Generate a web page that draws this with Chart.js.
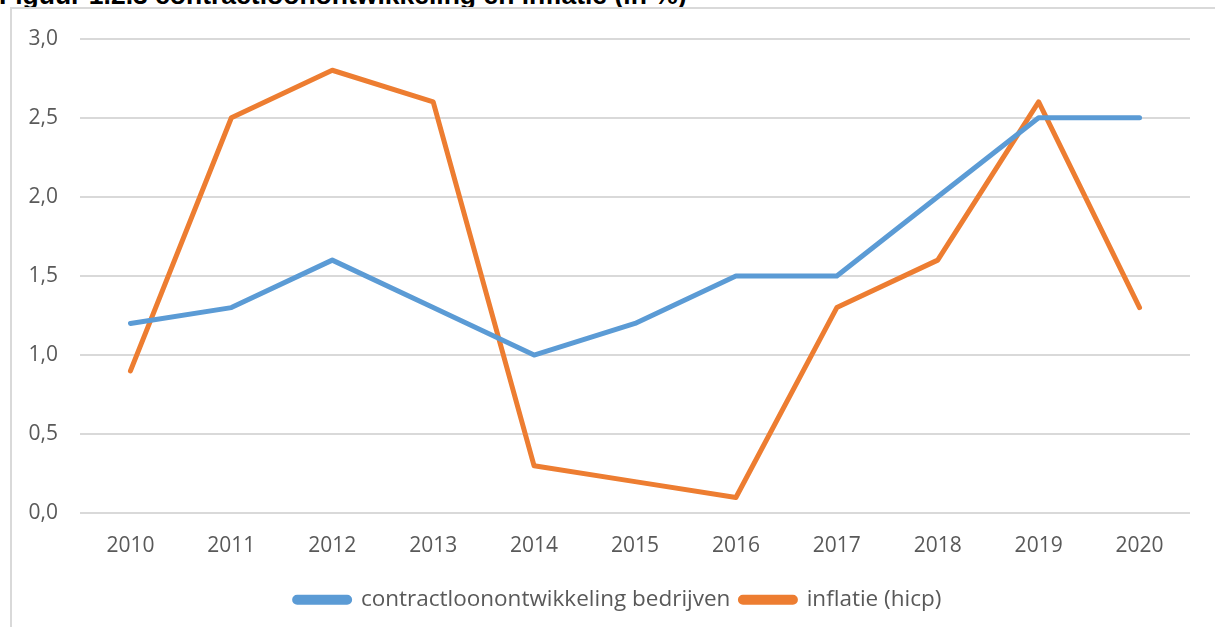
<!DOCTYPE html>
<html>
<head>
<meta charset="utf-8">
<script src="https://cdn.jsdelivr.net/npm/chart.js@4/dist/chart.umd.min.js"></script>
<style>
  html, body { margin: 0; padding: 0; background: #fff; overflow: hidden; }
  body { width: 1215px; height: 627px; position: relative; }
  #title {
    position: absolute; left: -1px; top: -20px;
    font: bold 26.5px "Liberation Sans", Arial, sans-serif; color: #000;
    white-space: nowrap;
  }
  #box {
    position: absolute; left: 10px; top: 7px; width: 1215px; height: 630px;
    border-left: 2px solid #d9d9d9; border-top: 2px solid #d9d9d9;
    background: #fff;
  }
  #wrap { position: absolute; left: 0; top: -5px; width: 1203px; height: 623px; }
</style>
</head>
<body>
<div id="title">Figuur 1.2.3 contractloonontwikkeling en inflatie (in %)</div>
<div id="box"><div id="wrap"><canvas id="c"></canvas></div></div>
<script>
var years = ['2010','2011','2012','2013','2014','2015','2016','2017','2018','2019','2020']
var contractloon = [1.2, 1.3, 1.6, 1.3, 1.0, 1.2, 1.5, 1.5, 2.0, 2.5, 2.5]
var inflatie = [0.9, 2.5, 2.8, 2.6, 0.3, 0.2, 0.1, 1.3, 1.6, 2.6, 1.3]
var seriesNames = ['contractloonontwikkeling bedrijven', 'inflatie (hicp)']
var seriesColors = ['#5b9bd5', '#ed7d31']

var fontFamily = '"Open Sans", "Liberation Sans", sans-serif'
var textColor = '#595959'

// legend sits a bit right of the plot centre in the original
var legendShift = {
    id: 'legendShift',
    afterLayout: function (chart) {
        chart.legend.left += 17
        chart.legend.right += 17
    }
}

var ctx = document.getElementById('c')
var myChart = new Chart(ctx, {
    type: 'line',
    data: {
        labels: years,
        datasets: [{
            label: seriesNames[0],
            data: contractloon,
            borderColor: seriesColors[0],
            backgroundColor: seriesColors[0],
            borderWidth: 5,
            borderCapStyle: 'round',
            borderJoinStyle: 'round',
            pointRadius: 0,
            tension: 0
        }, {
            label: seriesNames[1],
            data: inflatie,
            borderColor: seriesColors[1],
            backgroundColor: seriesColors[1],
            borderWidth: 5,
            borderCapStyle: 'round',
            borderJoinStyle: 'round',
            pointRadius: 0,
            tension: 0
        }]
    },
    options: {
        responsive: true,
        maintainAspectRatio: false,
        animation: false,
        layout: { padding: { top: 22, right: 25, bottom: 6, left: 0 } },
        scales: {
            x: {
                offset: true,
                grid: { display: false, drawTicks: false },
                border: { display: false },
                ticks: { color: textColor, font: { family: fontFamily, size: 21 }, padding: 20, maxRotation: 0 }
            },
            y: {
                min: 0,
                max: 3,
                afterFit: function (scale) { scale.width = 68 },
                grid: { color: '#d9d9d9', lineWidth: 2, drawTicks: false },
                border: { display: false },
                ticks: {
                    stepSize: 0.5,
                    color: textColor,
                    padding: 22,
                    font: { family: fontFamily, size: 21 },
                    callback: function (v) { return v.toFixed(1).replace('.', ',') }
                }
            }
        },
        plugins: {
            legend: {
                display: true,
                position: 'bottom',
                labels: {
                    color: textColor,
                    font: { family: fontFamily, size: 22.5 },
                    boxWidth: 55,
                    boxHeight: 5,
                    useBorderRadius: true,
                    borderRadius: 2.5,
                    padding: 10
                }
            },
            tooltip: { enabled: false }
        }
    },
    plugins: [legendShift]
})
</script>
</body>
</html>
